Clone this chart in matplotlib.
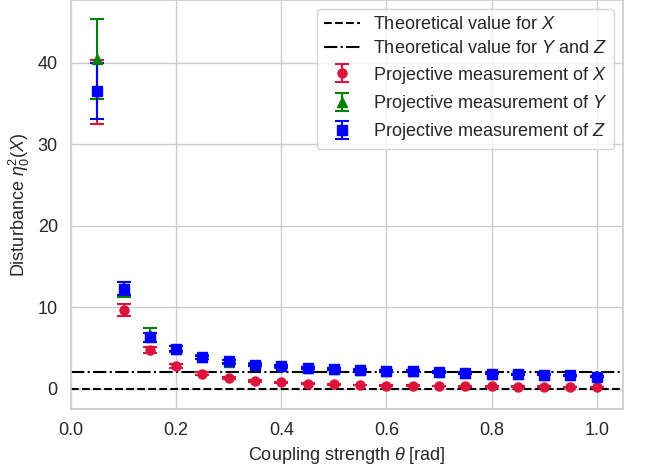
import numpy as np
import matplotlib
matplotlib.use('Agg')
import matplotlib.pyplot as plt
import seaborn as sns

# ---- data ----
theta = [0.05, 0.10, 0.15, 0.20, 0.25, 0.30, 0.35, 0.40, 0.45, 0.50,
         0.55, 0.60, 0.65, 0.70, 0.75, 0.80, 0.85, 0.90, 0.95, 1.00]

eta_x = [36.4, 9.7, 4.75, 2.75, 1.85, 1.3, 0.95, 0.78, 0.62, 0.57,
         0.47, 0.40, 0.37, 0.33, 0.30, 0.28, 0.27, 0.25, 0.23, 0.21]
err_x = [3.9, 0.75, 0.35, 0.25, 0.18, 0.13, 0.1, 0.08, 0.07, 0.06,
         0.05, 0.05, 0.04, 0.04, 0.04, 0.03, 0.03, 0.03, 0.03, 0.03]

eta_y = [40.5, 12.2, 6.6, 4.9, 3.85, 3.3, 2.95, 2.75, 2.55, 2.4,
         2.3, 2.2, 2.15, 2.05, 1.92, 1.85, 1.78, 1.72, 1.65, 1.52]
err_y = [4.9, 0.95, 0.9, 0.35, 0.25, 0.2, 0.17, 0.15, 0.14, 0.13,
         0.12, 0.11, 0.1, 0.1, 0.1, 0.09, 0.09, 0.09, 0.08, 0.08]

eta_z = [36.5, 12.3, 6.3, 4.9, 3.85, 3.35, 2.95, 2.75, 2.55, 2.4,
         2.33, 2.2, 2.15, 2.05, 1.92, 1.85, 1.78, 1.72, 1.65, 1.5]
err_z = [3.45, 0.75, 0.55, 0.3, 0.22, 0.18, 0.15, 0.14, 0.13, 0.12,
         0.11, 0.1, 0.1, 0.09, 0.09, 0.08, 0.08, 0.08, 0.08, 0.07]

theory_x = 0.0
theory_yz = 2.0

sns.set_theme(style='whitegrid')
plt.rcParams['font.family'] = ['Liberation Sans', 'DejaVu Sans']
plt.rcParams['mathtext.fontset'] = 'custom'
plt.rcParams['mathtext.rm'] = 'Liberation Sans'
plt.rcParams['mathtext.it'] = 'Liberation Sans:italic'

fig, ax = plt.subplots(figsize=(6.51, 4.66), dpi=100)

ax.axhline(theory_x, color='black', linestyle='--', linewidth=1.5,
           label='Theoretical value for $X$')
ax.axhline(theory_yz, color='black', linestyle='-.', linewidth=1.5,
           label='Theoretical value for $Y$ and $Z$')

ax.errorbar(theta, eta_x, yerr=err_x, fmt='o', color='crimson', markersize=6.5,
            capsize=5, capthick=1.5, label='Projective measurement of $X$')
ax.errorbar(theta, eta_y, yerr=err_y, fmt='^', color='green', markersize=6.5,
            capsize=5, capthick=1.5, label='Projective measurement of $Y$')
ax.errorbar(theta, eta_z, yerr=err_z, fmt='s', color='blue', markersize=6.5,
            capsize=5, capthick=1.5, label='Projective measurement of $Z$')

ax.set_xlim(0, 1.05)
ax.set_ylim(-2.5, 47.7)
ax.set_yticks([0, 10, 20, 30, 40])
ax.set_xlabel(r'Coupling strength $\theta$ [rad]', fontsize=13)
ax.set_ylabel(r'Disturbance $\eta_0^2(X)$', fontsize=13)
ax.tick_params(labelsize=13)
ax.legend(loc='upper right', fontsize=13, labelspacing=0.4,
          handletextpad=0.7, borderaxespad=0.5)

fig.subplots_adjust(left=0.109, right=0.957, top=1.0, bottom=0.122)
plt.savefig('out.png', dpi=100)
